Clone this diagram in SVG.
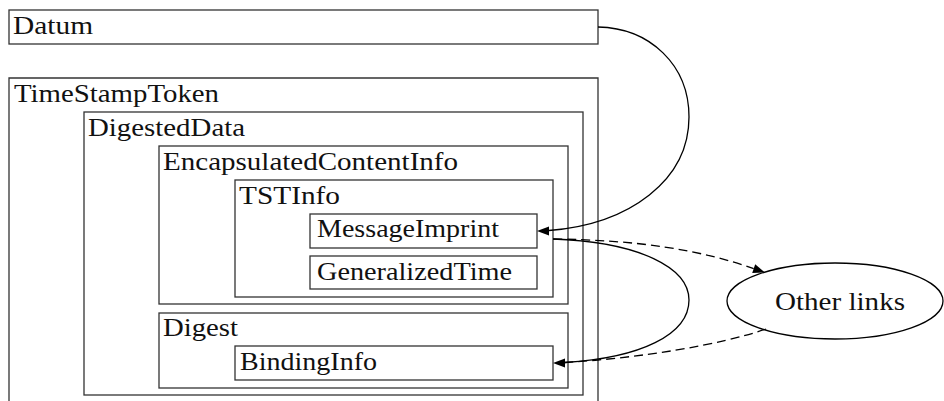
<svg xmlns="http://www.w3.org/2000/svg" width="944" height="401" viewBox="0 0 944 401">
<style>
.box{fill:none;stroke:#333;stroke-width:1.3}
.lbl{font-family:"Liberation Serif","DejaVu Serif",serif;font-size:25.5px;fill:#111}
.edge{fill:none;stroke:#000;stroke-width:1.3}
.dash{stroke-dasharray:9,5}
.head{fill:#000;stroke:none}
</style>
<rect width="944" height="401" fill="#fff"/>
<g id="datum">
<rect class="box" x="9" y="10" width="589" height="34"/>
<text class="lbl" x="13" y="34" textLength="80" lengthAdjust="spacingAndGlyphs">Datum</text>
</g>
<g id="timestamptoken">
<path class="box" d="M9,401 V78 H598 V401"/>
<text class="lbl" x="14" y="102" textLength="205" lengthAdjust="spacingAndGlyphs">TimeStampToken</text>
</g>
<g id="digesteddata">
<rect class="box" x="84" y="112" width="499" height="283"/>
<text class="lbl" x="88" y="136" textLength="157" lengthAdjust="spacingAndGlyphs">DigestedData</text>
</g>
<g id="encapsulatedcontentinfo">
<rect class="box" x="159" y="146" width="409" height="158"/>
<text class="lbl" x="163" y="170" textLength="295" lengthAdjust="spacingAndGlyphs">EncapsulatedContentInfo</text>
</g>
<g id="tstinfo">
<rect class="box" x="235" y="180" width="318" height="117"/>
<text class="lbl" x="239" y="204" textLength="101" lengthAdjust="spacingAndGlyphs">TSTInfo</text>
</g>
<g id="messageimprint">
<rect class="box" x="310" y="214" width="227" height="34"/>
<text class="lbl" x="317" y="237" textLength="182" lengthAdjust="spacingAndGlyphs">MessageImprint</text>
</g>
<g id="generalizedtime">
<rect class="box" x="310" y="256" width="227" height="33"/>
<text class="lbl" x="317" y="280" textLength="195" lengthAdjust="spacingAndGlyphs">GeneralizedTime</text>
</g>
<g id="digest">
<rect class="box" x="159" y="313" width="409" height="75"/>
<text class="lbl" x="163" y="336" textLength="75" lengthAdjust="spacingAndGlyphs">Digest</text>
</g>
<g id="bindinginfo">
<rect class="box" x="235" y="346" width="318" height="34"/>
<text class="lbl" x="240" y="370" textLength="137" lengthAdjust="spacingAndGlyphs">BindingInfo</text>
</g>
<g id="otherlinks">
<ellipse cx="835" cy="301" rx="108" ry="38" fill="none" stroke="#000" stroke-width="1.3"/>
<text class="lbl" x="840" y="310" text-anchor="middle" textLength="130" lengthAdjust="spacingAndGlyphs">Other links</text>
</g>
<g id="connectors">
<path class="edge" d="M598,27 C650,28 689,65 689,117 C689,180 630,224 549,230.5"/>
<polygon class="head" points="537,231 549,226.5 549,235.5"/>
<path class="edge" d="M553,239 C640,242 689,268 689,300 C689,335 640,358 565,362.5"/>
<polygon class="head" points="553,363 565,358.5 565,367.5"/>
<path class="edge dash" d="M553,239 C640,240 700,250 753.7,268.6"/>
<polygon class="head" points="765,272.5 752.2,272.9 755.2,264.3"/>
<path class="edge dash" d="M766,329 C720,345 640,358 565,362.5"/>
</g>
</svg>
